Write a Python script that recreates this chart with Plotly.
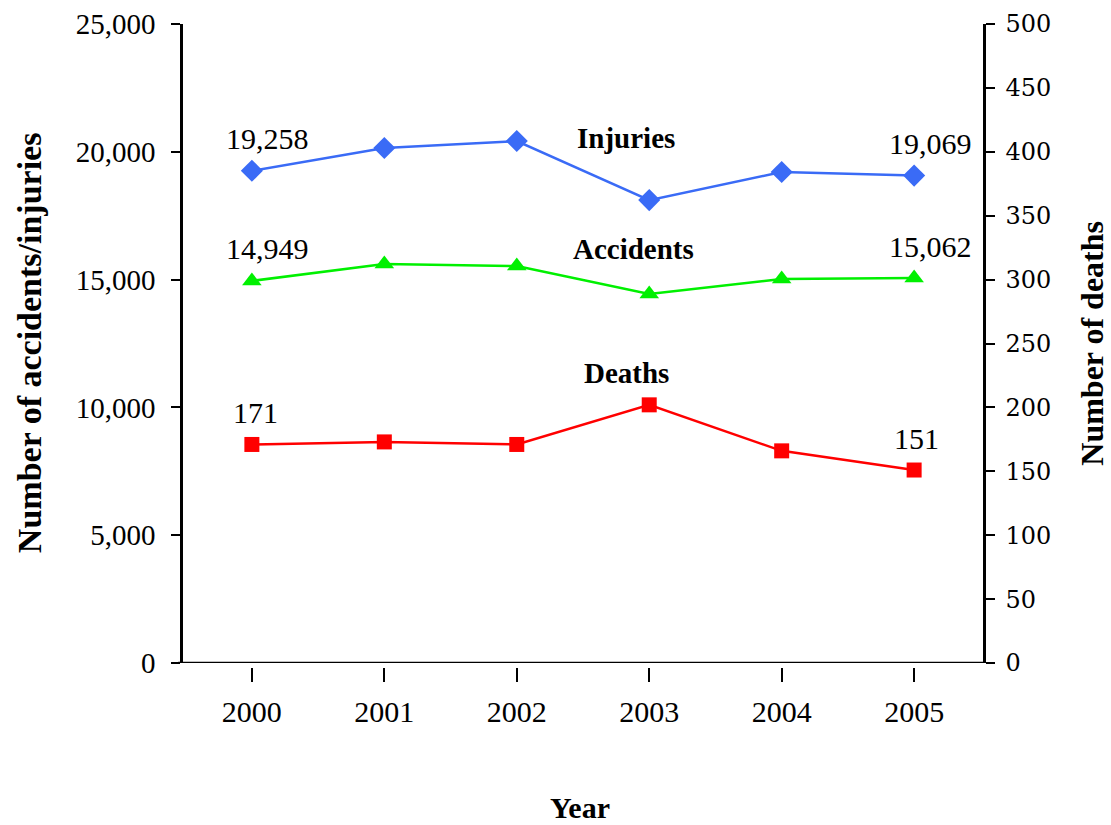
import plotly.graph_objects as go

years = [2000, 2001, 2002, 2003, 2004, 2005]
injuries = [19258, 20150, 20420, 18110, 19210, 19069]
accidents = [14949, 15610, 15530, 14440, 15020, 15062]
deaths = [171, 173, 171, 202, 166, 151]

left_ticks = [0, 5000, 10000, 15000, 20000, 25000]
right_ticks = [0, 50, 100, 150, 200, 250, 300, 350, 400, 450, 500]

BLUE = "#3A6BF6"
GREEN = "#00F000"
RED = "#FF0000"
SERIF = "Liberation Serif"

fig = go.Figure()
fig.add_trace(go.Scatter(x=years, y=injuries, mode="lines+markers", name="Injuries",
                         line=dict(color=BLUE, width=2.5),
                         marker=dict(symbol="diamond", size=17, color=BLUE)))
fig.add_trace(go.Scatter(x=years, y=accidents, mode="lines+markers", name="Accidents",
                         line=dict(color=GREEN, width=2.5),
                         marker=dict(symbol="triangle-up", size=17, color=GREEN)))
fig.add_trace(go.Scatter(x=years, y=deaths, mode="lines+markers", name="Deaths", yaxis="y2",
                         line=dict(color=RED, width=2.5),
                         marker=dict(symbol="square", size=15, color=RED)))

ann = []
def lab(x, y, txt, yref="y", yshift=32, xshift=16):
    ann.append(dict(x=x, y=y, xref="x", yref=yref, text=txt, showarrow=False,
                    xanchor="center", yanchor="middle",
                    xshift=xshift, yshift=yshift, font=dict(family=SERIF, size=30, color="black")))

lab(years[0], injuries[0], f"{injuries[0]:,}")
lab(years[-1], injuries[-1], f"{injuries[-1]:,}")
lab(years[0], accidents[0], f"{accidents[0]:,}")
lab(years[-1], accidents[-1], f"{accidents[-1]:,}")
lab(years[0], deaths[0], f"{deaths[0]}", yref="y2", xshift=4)
lab(years[-1], deaths[-1], f"{deaths[-1]}", yref="y2", xshift=2)

def name(x, y, txt, yref="y"):
    ann.append(dict(x=x, y=y, xref="x", yref=yref, text=f"<b>{txt}</b>", showarrow=False,
                    xanchor="center", yanchor="middle",
                    font=dict(family=SERIF, size=29, color="black")))

name(2002.825, 20540, "Injuries")
name(2002.885, 16200, "Accidents")
name(2002.825, 227, "Deaths", yref="y2")

# axis titles
ann.append(dict(x=-0.191, y=0.504, xref="paper", yref="paper", text="<b>Number of accidents/injuries</b>",
                xanchor="center", yanchor="middle",
                textangle=-90, showarrow=False, font=dict(family=SERIF, size=34, color="black")))
ann.append(dict(x=1.136, y=0.504, xref="paper", yref="paper", text="<b>Number of deaths</b>",
                xanchor="center", yanchor="middle",
                textangle=-90, showarrow=False, font=dict(family=SERIF, size=32, color="black")))
ann.append(dict(x=0.496, y=-0.218, xref="paper", yref="paper", text="<b>Year</b>",
                xanchor="center", yanchor="middle",
                showarrow=False, font=dict(family=SERIF, size=30, color="black")))

fig.update_layout(
    width=1111, height=825,
    margin=dict(l=183, r=128, t=24, b=158, autoexpand=False),
    plot_bgcolor="white", paper_bgcolor="white",
    showlegend=False,
    annotations=ann,
    xaxis=dict(range=[1999.48, 2005.52], tickvals=years, ticktext=[str(y) for y in years],
               anchor="free", position=0, showline=False, showgrid=False, zeroline=False,
               automargin=False,
               ticks="outside", ticklen=14, tickwidth=2, tickcolor="black", ticklabelstandoff=4,
               tickfont=dict(family=SERIF, size=30, color="black")),
    yaxis=dict(range=[0, 25000], tickvals=left_ticks, tickformat=",", domain=[4/643, 1],
               automargin=False,
               showline=True, linewidth=2.5, linecolor="black", showgrid=False, zeroline=False,
               ticks="outside", ticklen=9, tickwidth=2, tickcolor="black", ticklabelstandoff=10,
               tickfont=dict(family=SERIF, size=29, color="black")),
    yaxis2=dict(range=[0, 500], tickvals=right_ticks, overlaying="y", side="right",
                automargin=False,
                showline=True, linewidth=2.5, linecolor="black", showgrid=False, zeroline=False,
                ticks="outside", ticklen=9, tickwidth=2, tickcolor="black", ticklabelstandoff=6,
                tickfont=dict(family="DejaVu Serif", size=24, color="black")),
    shapes=[dict(type="line", xref="paper", yref="y", x0=-0.006, x1=1.003, y0=0, y1=0,
                 line=dict(color="black", width=2.5))],
)

fig.write_html("out.html")
